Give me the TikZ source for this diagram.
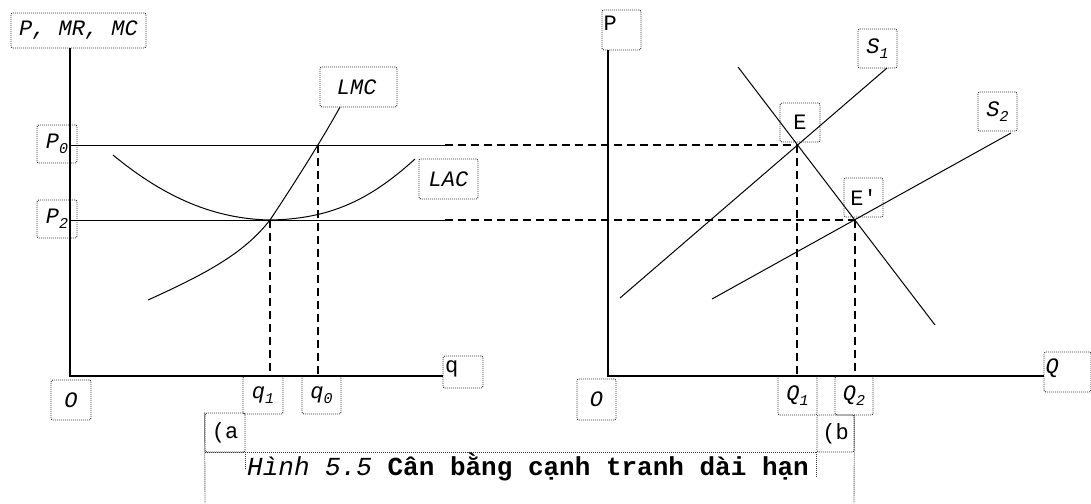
\documentclass[tikz,border=0pt]{standalone}
\usepackage{fontspec}
\setmonofont{Liberation Mono}
\usepackage{tikz}
\usetikzlibrary{positioning, calc}
\definecolor{ink}{HTML}{000000}
\definecolor{dotc}{HTML}{333333}
\newcommand{\sbs}[1]{\raisebox{-0.45ex}{\fontsize{15}{15}\selectfont #1}}

\begin{document}
\begin{tikzpicture}[x=1pt, y=-1pt, lbl/.style={draw=dotc, dash pattern=on 1pt off 1pt, line width=0.9pt, rounded corners=2pt, inner sep=0pt, text=ink, font=\fontsize{22}{24}\selectfont\ttfamily\itshape},up/.style={font=\fontsize{22}{24}\selectfont\ttfamily\upshape},axis/.style={line width=1.6pt, color=ink},curve/.style={line width=1pt, color=ink},guide/.style={line width=1.2pt, color=ink, dash pattern=on 8pt off 5pt},dots/.style={draw=dotc, dash pattern=on 1pt off 1pt, line width=0.9pt}]
\clip (0,0) rectangle (1091,503);
\fill[white] (0,0) rectangle (1091,503);
% key points
\coordinate (oL) at (70,376); \coordinate (oR) at (608,376);
\coordinate (eqL) at (270,220); \coordinate (fL) at (318,145);
\coordinate (E) at (797,145); \coordinate (Ep) at (855,220);
\coordinate (brk0) at (445,145); \coordinate (brk2) at (445,220);
% labels, left panel
\node[lbl, minimum width=135, minimum height=35] (yl) at (78.5,30.5) {P, MR, MC};
\node[lbl, minimum width=40, minimum height=38] (p0) at (57,144) {P\sbs{0}};
\node[lbl, minimum width=40, minimum height=38] (p2) at (57,219) {P\sbs{2}};
\node[lbl, minimum width=77, minimum height=40] (lmc) at (358.5,87) {LMC\,};
\node[lbl, minimum width=59, minimum height=40] (lac) at (448.5,179) {LAC};
\node[lbl, up, minimum width=40, minimum height=32, align=left, text width=36, text depth=10] (qax) at (463,372) {q};
\node[lbl, minimum width=40, minimum height=40] (oLb) at (71,400) {O};
\node[lbl, minimum width=40, minimum height=38] (q1) at (263,395) {q\sbs{1}};
\node[lbl, minimum width=39, minimum height=38] (q0) at (321.5,395) {q\sbs{0}};
\node[lbl, up, minimum width=40, minimum height=39] (abox) at (225,432.5) {(a};
% labels, right panel
\node[lbl, up, minimum width=39, minimum height=40, align=left, text width=36, text depth=14] (pr) at (621.5,30) {P};
\node[lbl, minimum width=39, minimum height=39] (s1) at (877.5,48.5) {S\sbs{1}};
\node[lbl, minimum width=39, minimum height=39] (s2) at (997.5,111.5) {S\sbs{2}};
\node[lbl, up, minimum width=40, minimum height=39] (ebox) at (800,122.5) {E};
\node[lbl, up, minimum width=39, minimum height=39] (epbox) at (863.5,197.5) {E'};
\node[lbl, minimum width=39, minimum height=41] (oRb) at (596.5,399.5) {O};
\node[lbl, minimum width=39, minimum height=39] (Q1) at (797.5,395.5) {Q\sbs{1}};
\node[lbl, minimum width=38, minimum height=39] (Q2) at (854,395.5) {Q\sbs{2}};
\node[lbl, minimum width=47, minimum height=40, align=left, text width=44, text depth=12] (Qax) at (1067.5,372) {Q};
\node[lbl, up, minimum width=37, minimum height=37] (bbox) at (835.5,433.5) {(b};
% axes
\draw[axis] (oL |- yl.south) -- (oL) -- (qax.west |- oL);
\draw[axis] (oR |- pr.south) -- (oR) -- (Qax.west |- oR);
% price lines
\draw[curve] (oL |- fL) -- (brk0); \draw[guide] (brk0) -- (E);
\draw[curve] (oL |- eqL) -- (brk2); \draw[guide] (brk2) -- (Ep);
\draw[guide] (fL) -- (fL |- oL); \draw[guide] (eqL) -- (eqL |- oL);
\draw[guide] (E) -- (E |- oR); \draw[guide] (Ep) -- (Ep |- oR);
% cost curves
\coordinate (lacL) at (113,155); \coordinate (lacR) at (415,159);
\coordinate (lmcL) at (148,300); \coordinate (lmcR) at (340,107);
\draw[curve] (lacL) .. controls (165,198) and (215,219) .. (eqL) .. controls (330,219) and (370,200) .. (lacR);
\draw[curve] (lmcL) .. controls (210,272) and (245,252) .. (eqL) .. controls (290,190) and (322,140) .. (lmcR);
% market
\coordinate (dA) at (738,67); \coordinate (dB) at (935,325);
\coordinate (s1A) at (620,298); \coordinate (s1B) at (887,68);
\coordinate (s2A) at (712,299); \coordinate (s2B) at (1011,133);
\draw[curve] (dA) -- (dB); \draw[curve] (s1A) -- (s1B); \draw[curve] (s2A) -- (s2B);
% caption
\draw[dots] (abox.north west) -- (205,503); \draw[dots] (abox.south east) -- (bbox.south west); \draw[dots] (bbox.north east) -- (854,503);
\draw[dots] (abox.south west) -- (abox.south east);
\draw[dots] (abox.south east) -- ++(0,18); \draw[dots] (bbox.south west) -- ++(0,26);
\node[font=\fontsize{26}{28}\selectfont\ttfamily, text=ink, anchor=west, inner sep=0pt] (capt) at (247,467) {\textit{Hình 5.5} \textbf{Cân bằng cạnh tranh dài hạn}};
\end{tikzpicture}
\end{document}
